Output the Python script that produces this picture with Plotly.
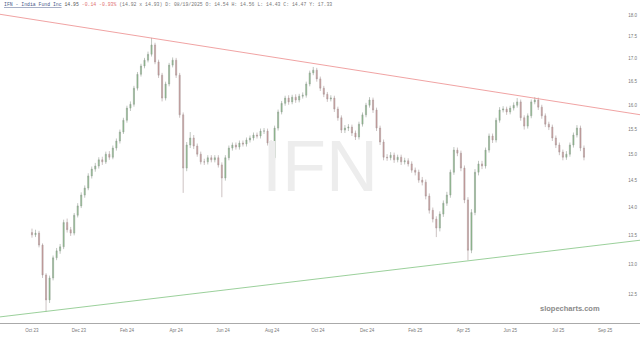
import math
import pandas as pd
import plotly.graph_objects as go

# ---------------- data ----------------
TICKER = "IFN"
TITLE = "IFN - India Fund Inc"
QUOTE = "14.95"
CHANGE = "-0.14 -0.93%"
DETAILS = "(14.92 x 14.93) D: 08/19/2025 O: 14.54 H: 14.56 L: 14.43 C: 14.47 Y: 17.33"

FIRST_DAY = "2023-10-02"
LAST_DAY = "2025-08-19"
BAR_STEP = 3  # each candle covers 3 trading sessions
HOLIDAYS = ["2023-09-04", "2023-11-23", "2023-12-25", "2024-01-01", "2024-01-15",
            "2024-02-19", "2024-03-29", "2024-05-27", "2024-06-19", "2024-07-04",
            "2024-09-02", "2024-11-28", "2024-12-25", "2025-01-01", "2025-01-09",
            "2025-01-20", "2025-02-17", "2025-04-18", "2025-05-26", "2025-06-19",
            "2025-07-04", "2025-09-01"]

first_open = 13.55
closes = [13.51, 13.54, 13.33, 12.82, 12.41, 12.77, 13.11, 13.23, 13.30, 13.73,
          13.60, 13.54, 13.86, 14.03, 14.23, 14.36, 14.59, 14.72, 14.78, 14.90,
          14.86, 15.01, 14.95, 15.13, 15.27, 15.45, 15.69, 15.94, 16.02, 16.36,
          16.66, 16.84, 16.97, 17.10, 17.31, 16.93, 16.64, 16.15, 16.45, 16.86,
          16.97, 16.64, 15.80, 14.74, 15.19, 15.33, 15.17, 15.01, 14.86, 14.86,
          14.94, 14.90, 14.94, 14.80, 14.55, 14.94, 15.13, 15.19, 15.15, 15.23,
          15.21, 15.29, 15.33, 15.39, 15.37, 15.47, 15.47, 15.23, 14.94, 15.53,
          15.86, 16.04, 16.15, 16.07, 16.17, 16.11, 16.19, 16.21, 16.45, 16.69,
          16.75, 16.56, 16.36, 16.23, 16.13, 16.15, 15.92, 15.74, 15.49, 15.53,
          15.55, 15.43, 15.35, 15.61, 15.80, 16.00, 16.11, 15.90, 15.53, 15.25,
          14.95, 14.94, 14.99, 14.90, 14.95, 14.86, 14.88, 14.82, 14.70, 14.66,
          14.51, 14.47, 14.21, 13.95, 13.79, 13.63, 13.88, 14.08, 14.23, 14.66,
          15.09, 15.03, 14.74, 14.14, 13.24, 13.91, 14.66, 14.82, 14.78, 15.09,
          15.37, 15.29, 15.69, 15.90, 15.92, 15.86, 15.94, 16.00, 16.07, 15.74,
          15.57, 15.78, 16.07, 16.11, 15.96, 15.78, 15.61, 15.55, 15.33, 15.19,
          15.05, 14.95, 15.01, 15.19, 15.39, 15.53, 15.13, 14.95]
highs = [13.62, 13.60, 13.58, 13.36, 12.85, 12.81, 13.15, 13.28, 13.35, 13.78,
         13.80, 13.65, 13.90, 14.08, 14.28, 14.41, 14.64, 14.77, 14.84, 14.95,
         14.96, 15.06, 15.07, 15.18, 15.32, 15.50, 15.74, 15.99, 16.08, 16.41,
         16.71, 16.89, 17.02, 17.16, 17.47, 17.36, 16.98, 16.69, 16.50, 16.91,
         17.03, 17.02, 16.69, 15.85, 15.25, 15.45, 15.39, 15.22, 15.06, 14.92,
         14.99, 14.99, 14.99, 14.99, 14.85, 14.99, 15.18, 15.24, 15.24, 15.28,
         15.28, 15.34, 15.38, 15.44, 15.44, 15.52, 15.53, 15.52, 15.28, 15.58,
         15.91, 16.09, 16.20, 16.21, 16.22, 16.23, 16.24, 16.27, 16.50, 16.74,
         16.82, 16.80, 16.61, 16.41, 16.28, 16.21, 16.20, 15.97, 15.79, 15.59,
         15.61, 15.60, 15.48, 15.66, 15.85, 16.05, 16.17, 16.16, 15.95, 15.58,
         15.30, 15.01, 15.05, 15.04, 15.00, 15.00, 14.94, 14.93, 14.87, 14.75,
         14.71, 14.57, 14.52, 14.26, 14.00, 13.84, 13.93, 14.13, 14.29, 14.71,
         15.15, 15.14, 15.08, 14.79, 14.19, 13.97, 14.72, 14.88, 14.88, 15.14,
         15.42, 15.42, 15.74, 15.96, 15.98, 15.97, 15.99, 16.06, 16.15, 16.12,
         15.79, 15.83, 16.12, 16.17, 16.16, 16.01, 15.83, 15.66, 15.60, 15.38,
         15.24, 15.10, 15.07, 15.24, 15.44, 15.59, 15.58, 15.18]
lows = [13.46, 13.47, 13.29, 12.77, 12.22, 12.36, 12.73, 13.07, 13.18, 13.26,
        13.55, 13.49, 13.50, 13.82, 13.99, 14.18, 14.32, 14.54, 14.67, 14.73,
        14.80, 14.82, 14.90, 14.91, 15.08, 15.22, 15.41, 15.64, 15.88, 15.97,
        16.31, 16.61, 16.79, 16.92, 17.05, 16.88, 16.58, 16.08, 16.10, 16.40,
        16.81, 16.58, 15.74, 14.27, 14.68, 15.13, 15.11, 14.96, 14.81, 14.80,
        14.81, 14.85, 14.85, 14.75, 14.19, 14.50, 14.89, 15.08, 15.10, 15.10,
        15.16, 15.16, 15.24, 15.28, 15.32, 15.32, 15.41, 15.18, 14.84, 14.90,
        15.48, 15.81, 15.99, 16.01, 16.02, 16.05, 16.06, 16.14, 16.16, 16.40,
        16.64, 16.50, 16.30, 16.17, 16.07, 16.08, 15.86, 15.68, 15.43, 15.43,
        15.47, 15.37, 15.29, 15.30, 15.56, 15.75, 15.95, 15.84, 15.47, 15.19,
        14.89, 14.88, 14.89, 14.84, 14.85, 14.80, 14.81, 14.77, 14.65, 14.60,
        14.46, 14.41, 14.15, 13.89, 13.73, 13.47, 13.57, 13.83, 14.03, 14.18,
        14.61, 14.97, 14.68, 14.08, 13.07, 13.19, 13.86, 14.60, 14.72, 14.73,
        15.04, 15.23, 15.24, 15.64, 15.85, 15.80, 15.81, 15.89, 15.95, 15.68,
        15.50, 15.52, 15.73, 16.02, 15.90, 15.72, 15.55, 15.49, 15.27, 15.13,
        14.99, 14.89, 14.90, 14.96, 15.14, 15.34, 15.07, 14.89]

price_ticks = [12.5, 13.0, 13.5, 14.0, 14.5, 15.0, 15.5, 16.0, 16.5, 17.0, 17.5, 18.0]
date_tick_vals = ["2023-10-02", "2023-11-28", "2024-01-29", "2024-03-28", "2024-05-24",
                  "2024-07-26", "2024-09-20", "2024-11-19", "2025-01-22", "2025-03-21",
                  "2025-05-19", "2025-07-18", "2025-09-15"]
date_tick_text = ["Oct 23", "Dec 23", "Feb 24", "Apr 24", "Jun 24", "Aug 24", "Oct 24",
                  "Dec 24", "Feb 25", "Apr 25", "Jun 25", "Jul 25", "Sep 25"]

# trend lines (two anchor points each, beyond the visible range)
trend_dates = ["2023-08-15", "2025-10-31"]
resistance_prices = [18.05, 15.78]
support_prices = [12.12, 13.43]

x_view = ["2023-08-22 16:48", "2025-10-24 19:12"]
y_view = [12.041, 18.356]

# ---------------- build ----------------
sessions = pd.bdate_range(FIRST_DAY, LAST_DAY, freq="C", holidays=HOLIDAYS)
bar_dates = sessions[::BAR_STEP][:len(closes)]
opens = [first_open] + closes[:-1]

fig = go.Figure()
fig.add_trace(go.Scatter(x=trend_dates, y=resistance_prices, mode="lines",
                         line=dict(color="rgb(236,140,140)", width=0.8),
                         hoverinfo="skip", showlegend=False))
fig.add_trace(go.Scatter(x=trend_dates, y=support_prices, mode="lines",
                         line=dict(color="rgb(130,196,130)", width=0.8),
                         hoverinfo="skip", showlegend=False))
fig.add_trace(go.Candlestick(
    x=bar_dates, open=opens, high=highs, low=lows, close=closes,
    increasing=dict(line=dict(color="#939f93", width=0.6), fillcolor="#86c286"),
    decreasing=dict(line=dict(color="#a99898", width=0.6), fillcolor="#cf9a9a"),
    whiskerwidth=0, showlegend=False))

fig.update_layout(
    width=640, height=337,
    margin=dict(l=0, r=0, t=0, b=14),
    paper_bgcolor="white", plot_bgcolor="white",
    showlegend=False,
    boxgap=0.55,
    xaxis=dict(
        type="date", range=x_view,
        rangeslider=dict(visible=False),
        rangebreaks=[dict(bounds=["sat", "mon"]), dict(values=HOLIDAYS)],
        showgrid=False, zeroline=False,
        showline=True, linecolor="#aaaaaa", linewidth=1,
        tickmode="array", tickvals=date_tick_vals, ticktext=date_tick_text,
        ticks="outside", ticklen=3, tickcolor="rgba(0,0,0,0)",
        tickfont=dict(family="Liberation Sans, Arial", size=4.5, color="#777777"),
    ),
    yaxis=dict(
        type="log", range=[math.log10(y_view[0]), math.log10(y_view[1])],
        side="right", ticklabelposition="inside",
        tickmode="array", tickvals=price_ticks,
        ticktext=[f"{v:.1f}" for v in price_ticks],
        showgrid=False, zeroline=False, showline=False,
        tickfont=dict(family="Liberation Sans, Arial", size=4.5, color="#777777"),
    ),
)

fig.add_annotation(text=TICKER, xref="paper", yref="paper", x=0.5, y=0.486,
                   xanchor="center", yanchor="middle", showarrow=False,
                   font=dict(family="Liberation Sans Narrow, Liberation Sans, Arial",
                             size=72, color="#ededed"))
header = (f'<span style="color:#4a5a8a;text-decoration:underline">{TITLE}</span> '
          f'<span style="color:#555555">{QUOTE}</span> '
          f'<span style="color:#e07070">{CHANGE}</span> '
          f'<span style="color:#777777">{DETAILS}</span>')
fig.add_annotation(text=header, xref="paper", yref="paper", x=0.003, y=0.985,
                   xanchor="left", yanchor="middle", showarrow=False, align="left",
                   font=dict(family="Liberation Mono, DejaVu Sans Mono, monospace",
                             size=4.8, color="#777777"))
fig.add_annotation(text="<b>slopecharts.com</b>", xref="paper", yref="paper",
                   x=0.941, y=0.046, xanchor="right", yanchor="middle",
                   showarrow=False,
                   font=dict(family="Liberation Sans, Arial", size=7.5, color="#8a8a8a"))

fig.write_html("out.html")
